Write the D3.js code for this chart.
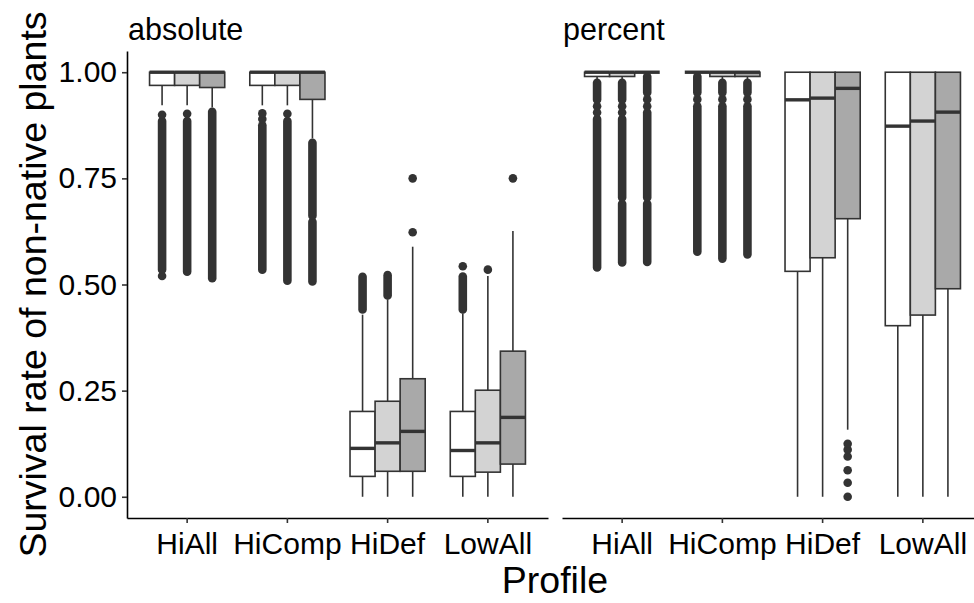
<!DOCTYPE html>
<html><head><meta charset="utf-8">
<script src="https://cdn.jsdelivr.net/npm/d3@7"></script>
<style>body{margin:0;background:#fff} text{font-family:"Liberation Sans", Arial, sans-serif;fill:#000}</style>
</head><body><svg id="chart" width="974" height="603"></svg>
<script>
// ---------- data ----------
const panels = ["absolute", "percent"];
const profiles = ["HiAll", "HiComp", "HiDef", "LowAll"];
const groups = ["A", "B", "C"];
const groupFills = ["#ffffff", "#d3d3d3", "#a9a9a9"];
const yTicks = [0, 0.25, 0.5, 0.75, 1];
const yTickLabels = ["0.00", "0.25", "0.50", "0.75", "1.00"];

// order: HiAll A,B,C | HiComp A,B,C | HiDef A,B,C | LowAll A,B,C
const absLower  = [0.922, 0.922, 0.917, 0.922, 0.922, 0.844, 0, 0, 0, 0, 0, 0];
const absQ1     = [0.969, 0.969, 0.964, 0.969, 0.969, 0.936, 0.048, 0.060, 0.060, 0.048, 0.058, 0.077];
const absMedian = [1, 1, 1, 1, 1, 1, 0.114, 0.127, 0.154, 0.109, 0.127, 0.187];
const absQ3     = [1, 1, 1, 1, 1, 1, 0.201, 0.225, 0.278, 0.201, 0.251, 0.343];
const absUpper  = [1, 1, 1, 1, 1, 1, 0.429, 0.465, 0.589, 0.432, 0.520, 0.626];
// outliers: runs of overlapping points [lowest, highest]; single points have equal ends
const absOutliers = [
  [[0.52, 0.52], [0.535, 0.885], [0.9, 0.9]],
  [[0.53, 0.885], [0.902, 0.902]],
  [[0.515, 0.907]],
  [[0.535, 0.875], [0.89, 0.89], [0.903, 0.903]],
  [[0.509, 0.885], [0.902, 0.902]],
  [[0.507, 0.648], [0.662, 0.834]],
  [[0.441, 0.518]],
  [[0.474, 0.522]],
  [[0.623, 0.623], [0.75, 0.75]],
  [[0.441, 0.519], [0.543, 0.543]],
  [[0.535, 0.535]],
  [[0.75, 0.75]]
];

const pctLower  = [0.975, 0.975, 1, 1, 0.975, 0.975, 0, 0, 0.158, 0, 0, 0];
const pctQ1     = [0.99, 0.99, 1, 1, 0.99, 0.99, 0.531, 0.563, 0.655, 0.403, 0.428, 0.49];
const pctMedian = [1, 1, 1, 1, 1, 1, 0.935, 0.939, 0.962, 0.873, 0.885, 0.906];
const pctQ3     = [1, 1, 1, 1, 1, 1, 1, 1, 1, 1, 1, 1];
const pctUpper  = [1, 1, 1, 1, 1, 1, 1, 1, 1, 1, 1, 1];
const pctOutliers = [
  [[0.54, 0.89], [0.905, 0.905], [0.92, 0.92], [0.935, 0.975]],
  [[0.552, 0.69], [0.705, 0.89], [0.905, 0.905], [0.92, 0.92], [0.935, 0.975]],
  [[0.553, 0.69], [0.705, 0.905], [0.92, 0.92], [0.936, 0.936], [0.952, 0.99]],
  [[0.577, 0.92], [0.936, 0.936], [0.952, 0.99]],
  [[0.561, 0.92], [0.936, 0.936], [0.952, 0.975]],
  [[0.571, 0.92], [0.936, 0.936], [0.952, 0.975]],
  [],
  [],
  [[0, 0], [0.033, 0.033], [0.0625, 0.0625], [0.095, 0.095], [0.111, 0.111], [0.125, 0.125]],
  [],
  [],
  []
];

// ---------- build ----------
function buildBoxes(lower, q1, med, q3, upper, outl) {
  const out = [];
  profiles.forEach((p, i) => groups.forEach((g, j) => {
    const k = i * groups.length + j;
    out.push({profile: p, group: g, gi: j, lower: lower[k], q1: q1[k], median: med[k], q3: q3[k], upper: upper[k], outliers: outl[k]});
  }));
  return out;
}
const panelData = [
  buildBoxes(absLower, absQ1, absMedian, absQ3, absUpper, absOutliers),
  buildBoxes(pctLower, pctQ1, pctMedian, pctQ3, pctUpper, pctOutliers)
];

// ---------- layout ----------
const svg = d3.select("#chart");
const panelLeft = [127, 562];
const panelW = 421;
const plotTop = 51, plotBottom = 518;
const ink = "#333333";
const ptR = 4.3;

const y = d3.scaleLinear().domain([-0.05, 1.05]).range([plotBottom, plotTop]);
const x = d3.scaleBand().domain(profiles).range([0, panelW]).paddingInner(0).paddingOuter(0.1);
const xg = d3.scaleBand().domain(groups).range([-x.step() * 0.375, x.step() * 0.375]).padding(0);

panels.forEach((pn, pi) => {
  const g = svg.append("g").attr("transform", `translate(${panelLeft[pi]},0)`);
  const data = panelData[pi];

  // strip label
  g.append("text").attr("x", 1).attr("y", 39.5).attr("font-size", 30.5).text(pn);

  const boxes = g.selectAll("g.box").data(data).join("g")
    .attr("class", "box")
    .attr("transform", d => `translate(${x(d.profile) + x.bandwidth() / 2 + xg(d.group)},0)`);
  const bw = xg.bandwidth();

  // outliers
  boxes.each(function (d) {
    const sel = d3.select(this);
    d.outliers.forEach(r => {
      if (r[0] === r[1]) {
        sel.append("circle").attr("cx", bw / 2).attr("cy", y(r[0])).attr("r", ptR).attr("fill", ink);
      } else {
        sel.append("line").attr("x1", bw / 2).attr("x2", bw / 2)
          .attr("y1", y(r[0])).attr("y2", y(r[1]))
          .attr("stroke", ink).attr("stroke-width", ptR * 2).attr("stroke-linecap", "round");
      }
    });
  });

  // whiskers
  boxes.append("line").attr("x1", bw / 2).attr("x2", bw / 2)
    .attr("y1", d => y(d.upper)).attr("y2", d => y(d.q3))
    .attr("stroke", ink).attr("stroke-width", 1.6);
  boxes.append("line").attr("x1", bw / 2).attr("x2", bw / 2)
    .attr("y1", d => y(d.q1)).attr("y2", d => y(d.lower))
    .attr("stroke", ink).attr("stroke-width", 1.6);

  // box
  boxes.append("rect").attr("x", 0).attr("width", bw)
    .attr("y", d => y(d.q3)).attr("height", d => y(d.q1) - y(d.q3))
    .attr("fill", d => groupFills[d.gi]).attr("stroke", ink).attr("stroke-width", 1.6);
  // median
  boxes.append("line").attr("x1", 0).attr("x2", bw)
    .attr("y1", d => y(d.median)).attr("y2", d => y(d.median))
    .attr("stroke", ink).attr("stroke-width", 3.4);

  // x axis
  const xAxis = d3.axisBottom(x).tickSize(5).tickPadding(10).tickSizeOuter(0);
  const ax = g.append("g").attr("transform", `translate(0,${plotBottom})`).call(xAxis);
  ax.select(".domain").attr("stroke", "#000").attr("stroke-width", 1.6);
  ax.selectAll(".tick line").attr("stroke", ink).attr("stroke-width", 1.6);
  ax.selectAll(".tick text").attr("font-size", 30).attr("fill", "#000")
    .attr("font-family", '"Liberation Sans", Arial, sans-serif');

  if (pi === 0) {
    const yAxis = d3.axisLeft(y).tickValues(yTicks).tickFormat((d, i) => yTickLabels[i]).tickSize(5).tickPadding(5).tickSizeOuter(0);
    const ay = g.append("g").call(yAxis);
    ay.select(".domain").attr("stroke", "#000").attr("stroke-width", 1.6);
    ay.selectAll(".tick line").attr("stroke", ink).attr("stroke-width", 1.6);
    ay.selectAll(".tick text").attr("font-size", 30).attr("fill", "#000")
      .attr("font-family", '"Liberation Sans", Arial, sans-serif');
  }
});

// axis titles
svg.append("text").attr("x", (panelLeft[0] + panelLeft[1] + panelW) / 2).attr("y", 593)
  .attr("text-anchor", "middle").attr("font-size", 37.5).text("Profile");
svg.append("text").attr("transform", `translate(46,${(plotTop + plotBottom) / 2}) rotate(-90)`)
  .attr("text-anchor", "middle").attr("font-size", 37.5).text("Survival rate of non-native plants");
</script></body></html>
